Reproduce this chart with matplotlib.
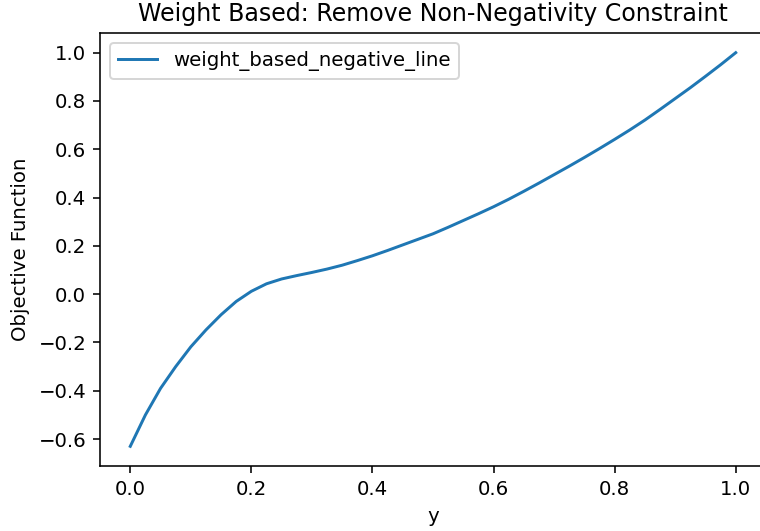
import numpy as np
import matplotlib
matplotlib.use('Agg')
import matplotlib.pyplot as plt


# values
y_values = [0.0, 0.025, 0.05, 0.075, 0.1, 0.125, 0.15, 0.175, 0.2, 0.225,
            0.25, 0.275, 0.3, 0.325, 0.35, 0.375, 0.4, 0.425, 0.45, 0.475,
            0.5, 0.525, 0.55, 0.575, 0.6, 0.625, 0.65, 0.675, 0.7, 0.725,
            0.75, 0.775, 0.8, 0.825, 0.85, 0.875, 0.9, 0.925, 0.95, 0.975,
            1.0]
objective = [-0.63, -0.50, -0.39, -0.30, -0.218, -0.148, -0.085, -0.03, 0.012, 0.043,
             0.063, 0.077, 0.090, 0.104, 0.12, 0.139, 0.159, 0.181, 0.204, 0.227,
             0.25, 0.277, 0.305, 0.333, 0.362, 0.393, 0.426, 0.46, 0.495, 0.53,
             0.566, 0.603, 0.641, 0.68, 0.721, 0.765, 0.81, 0.855, 0.902, 0.95,
             1.0]

line_label = 'weight_based_negative_line'
title = 'Weight Based: Remove Non-Negativity Constraint'

dpi = 142.5
fig = plt.figure(figsize=(760 / dpi, 531 / dpi), dpi=dpi)
ax = fig.add_axes([100 / 760, 1 - 466 / 531, 666 / 760, 433 / 531])

ax.plot(y_values, objective, label=line_label)
ax.set_title(title)
ax.set_xlabel('y')
ax.set_ylabel('Objective Function')
ax.legend(loc='upper left')

fig.savefig('out.png', dpi=dpi)
